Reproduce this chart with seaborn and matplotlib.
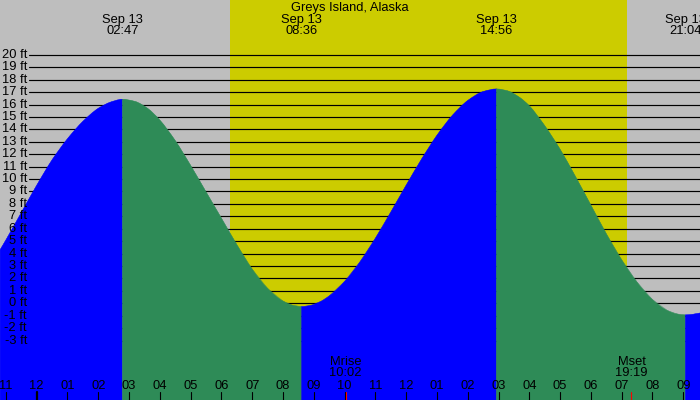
import numpy as np
import pandas as pd
import matplotlib
matplotlib.use("Agg")
import matplotlib.pyplot as plt
import matplotlib.transforms as mtransforms
from matplotlib.path import Path
from matplotlib.patches import PathPatch
import seaborn as sns

# ---------------- data ----------------
title = "Greys Island, Alaska"
date_label = "Sep 13"

# tide level readings (hours from midnight Sep 13, feet)
tide_hours = [-1.19, -1.0, -0.5, 0.0, 0.5, 1.0, 1.5, 2.0, 2.4, 2.783,
              3.2, 3.6, 4.0, 4.5, 5.0, 5.5, 6.0, 6.5, 7.0, 7.5,
              8.0, 8.3, 8.6,
              8.9, 9.25, 9.5, 10.0, 10.5, 11.0, 11.5, 12.0, 12.5, 13.0,
              13.5, 14.0, 14.5, 14.933,
              15.3, 15.7, 16.0, 16.5, 17.0, 17.5, 18.0, 18.5, 19.0, 19.5,
              20.0, 20.5, 20.8, 21.067,
              21.3, 21.55]
tide_ft = [4.3, 5.1, 7.3, 9.5, 11.55, 13.25, 14.65, 15.7, 16.2, 16.43,
           16.25, 15.7, 14.75, 13.1, 11.1, 8.97, 6.85, 4.72, 2.75, 1.2,
           0.18, -0.15, -0.27,
           -0.17, 0.18, 0.59, 1.76, 3.34, 5.24, 7.34, 9.51, 11.61, 13.53,
           15.13, 16.33, 17.05, 17.26,
           17.1, 16.55, 15.9, 14.3, 12.4, 10.2, 7.9, 5.6, 3.5, 1.7,
           0.3, -0.6, -0.86, -0.94,
           -0.89, -0.78]

# tide extremes
extreme_labels = ["02:47", "08:36", "14:56", "21:04"]
extreme_hours = [2.783, 8.600, 14.933, 21.067]

# sun
sunrise_h = 6.283   # 06:17
sunset_h = 19.183   # 19:11

# moon
moon_labels = ["Mrise", "Mset"]
moon_times = ["10:02", "19:19"]
moon_hours = [10.033, 19.317]

# hour ticks
tick_hours = list(range(-1, 22))
tick_labels = ["11", "12", "01", "02", "03", "04", "05", "06", "07", "08", "09", "10",
               "11", "12", "01", "02", "03", "04", "05", "06", "07", "08", "09"]

ft_levels = list(range(-3, 21))

# ---------------- style ----------------
sns.set_theme(style="white")
plt.rcParams["font.family"] = ["Liberation Sans", "DejaVu Sans"]
FS = 9.3

NIGHT = "#BEBEBE"
DAY = "#CCCC00"
RISE = "#0000FF"
FALL = "#2E8B57"

fig = plt.figure(figsize=(7, 4), dpi=100)
ax = fig.add_axes([0, 0, 1, 1])
ax.set_facecolor(NIGHT)
for s in ax.spines.values():
    s.set_visible(False)

XMIN, XMAX = -1.192, 21.543
YMIN, YMAX = -7.79, 24.42

# daylight
ax.axvspan(sunrise_h, sunset_h, color=DAY, zorder=0.5, lw=0)

# grid lines
for lv in ft_levels:
    ax.axhline(lv, xmin=29 / 700, xmax=1, color="black", lw=0.85, zorder=1)

# smooth (monotone cubic) rendering of the tide readings
xs = np.asarray(tide_hours, float)
ys = np.asarray(tide_ft, float)
hs = np.diff(xs)
ds = np.diff(ys) / hs
ms = np.zeros_like(xs)
ms[0], ms[-1] = ds[0], ds[-1]
for i in range(1, len(xs) - 1):
    if ds[i - 1] * ds[i] <= 0:
        ms[i] = 0.0
    else:
        w1 = 2 * hs[i] + hs[i - 1]
        w2 = hs[i] + 2 * hs[i - 1]
        ms[i] = (w1 + w2) / (w1 / ds[i - 1] + w2 / ds[i])


def seg_patch(a, b, color):
    verts = [(xs[a], ys[a])]
    codes = [Path.MOVETO]
    for i in range(a, b):
        dx = xs[i + 1] - xs[i]
        verts += [(xs[i] + dx / 3, ys[i] + ms[i] * dx / 3),
                  (xs[i + 1] - dx / 3, ys[i + 1] - ms[i + 1] * dx / 3),
                  (xs[i + 1], ys[i + 1])]
        codes += [Path.CURVE4] * 3
    verts += [(xs[b], YMIN - 1), (xs[a], YMIN - 1), (xs[a], ys[a])]
    codes += [Path.LINETO, Path.LINETO, Path.CLOSEPOLY]
    return PathPatch(Path(verts, codes), facecolor=color, edgecolor=color,
                     lw=0.3, zorder=2)


idx = [0] + [int(np.argmin(np.abs(xs - h))) for h in extreme_hours] + [len(xs) - 1]
df = pd.DataFrame({"hour": xs, "ft": ys})
for k in range(len(idx) - 1):
    a, b = idx[k], idx[k + 1]
    col = RISE if k % 2 == 0 else FALL
    ax.add_patch(seg_patch(a, b, col))
    sns.lineplot(data=df.iloc[a:b + 1], x="hour", y="ft", color=col, lw=0.2,
                 ax=ax, zorder=2.1, estimator=None)

ax.set_xlabel("")
ax.set_ylabel("")
ax.set_xticks([])
ax.set_yticks([])
ax.set_xlim(XMIN, XMAX)
ax.set_ylim(YMIN, YMAX)

# y labels
ytr = mtransforms.blended_transform_factory(ax.transAxes, ax.transData)
for lv in ft_levels:
    ax.text(27 / 700, lv, f"{lv} ft", transform=ytr, ha="right", va="center",
            fontsize=FS, color="black", zorder=5)

xtr = mtransforms.blended_transform_factory(ax.transData, ax.transAxes)

# hour ticks
for h, lab in zip(tick_hours, tick_labels):
    ax.axvline(h, ymin=0, ymax=8 / 400, color="black",
               lw=1.6 if h == 0 else 0.8, zorder=5)
    ax.text(h, 1 - 385.7 / 400, lab, transform=xtr, ha="center", va="center",
            fontsize=FS, color="black", zorder=5)

# moon
for h, lab, t in zip(moon_hours, moon_labels, moon_times):
    ax.axvline(h, ymin=0, ymax=8 / 400, color="red", lw=0.8, zorder=6)
    ax.text(h, 1 - 361.7 / 400, lab, transform=xtr, ha="center", va="center",
            fontsize=FS, color="black", zorder=5)
    ax.text(h, 1 - 373.3 / 400, t, transform=xtr, ha="center", va="center",
            fontsize=FS, color="black", zorder=5)

# tide extreme labels
for h, t in zip(extreme_hours, extreme_labels):
    ax.text(h, 1 - 19.5 / 400, date_label, transform=xtr, ha="center", va="center",
            fontsize=FS, color="black", zorder=5)
    ax.text(h, 1 - 31.5 / 400, t, transform=xtr, ha="center", va="center",
            fontsize=FS, color="black", zorder=5)

# title
ax.text(0.5, 1 - 7.5 / 400, title, transform=ax.transAxes, ha="center", va="center",
        fontsize=FS, color="black", zorder=5)

fig.savefig("out.png", dpi=100)
